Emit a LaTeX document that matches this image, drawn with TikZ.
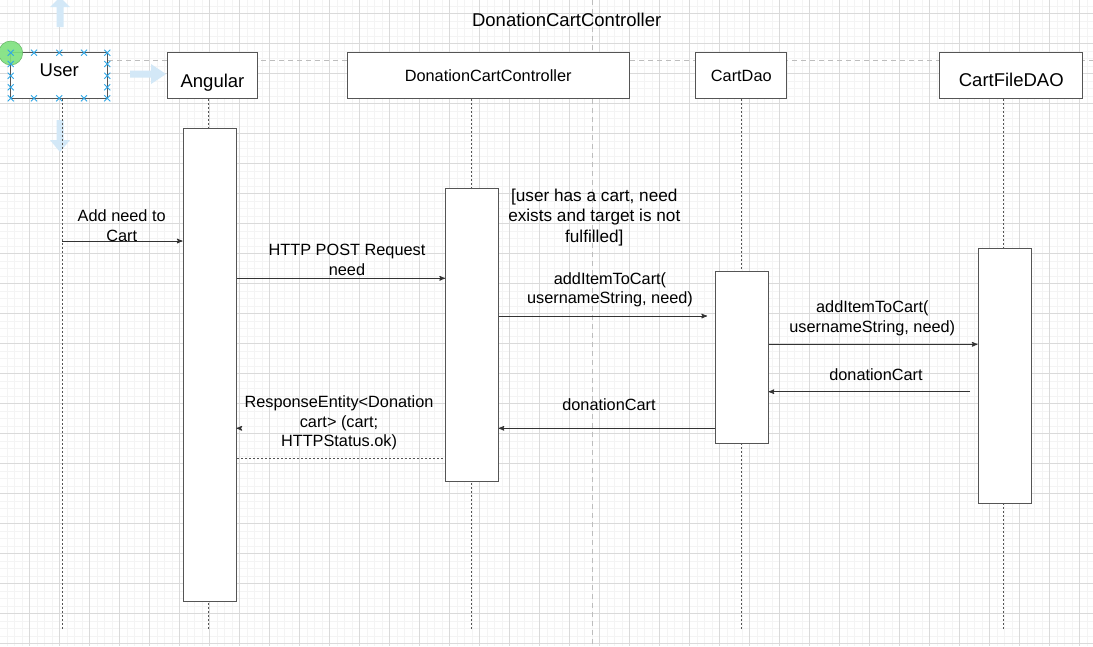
\documentclass[tikz,border=0pt]{standalone}
\usepackage{fontspec}
\setmainfont{Liberation Sans}
\usetikzlibrary{arrows}
\definecolor{gridmajor}{HTML}{DADADA}
\definecolor{gridminor}{HTML}{F4F4F4}
\definecolor{guidegray}{HTML}{BDBDBD}
\definecolor{boxline}{HTML}{555555}
\definecolor{msgline}{HTML}{333333}
\definecolor{selblue}{HTML}{2EA6E6}
\definecolor{hintblue}{HTML}{D3E8F7}
\definecolor{selgreen}{HTML}{7EE27E}
\tikzset{
    head/.style={
           rectangle,
           draw=boxline, fill=white, line width=1pt,
           minimum height=45.6pt, inner sep=0pt,
           text depth=0pt,
           },
    act/.style={
           rectangle,
           draw=boxline, fill=white, line width=1pt,
           anchor=north west, inner sep=0pt,
           },
    life/.style={draw=boxline, line width=0.9pt, dash pattern=on 2pt off 2pt},
    call/.style={->, draw=msgline, line width=1pt},
    msg/.style={align=center, inner sep=0pt, font=\fontsize{16.3}{19.5}\selectfont},
    guide/.style={draw=guidegray, line width=1pt, dash pattern=on 5pt off 4pt},
    big/.style={font=\fontsize{18.5}{20}\selectfont},
    small/.style={font=\fontsize{16.3}{19}\selectfont},
}

\begin{document}
\begin{tikzpicture}[x=1pt,y=-1pt,>=stealth']
	\useasboundingbox (0,0) rectangle (1093,646);
	\fill[white] (0,0) rectangle (1093,646);
	\foreach \i in {0,...,145} \draw[gridminor,line width=0.6pt] ({6.8+7.5*\i},0) -- ++(0,646);
	\foreach \i in {0,...,86} \draw[gridminor,line width=0.6pt] (0,{5.8+7.5*\i}) -- ++(1093,0);
	\foreach \i in {0,...,36} \draw[gridmajor,line width=0.8pt] ({29.3+30*\i},0) -- ++(0,646);
	\foreach \i in {0,...,21} \draw[gridmajor,line width=0.8pt] (0,{13.3+30*\i}) -- ++(1093,0);

	\draw[guide] (108,60.5) -- (1093,60.5);
	\draw[guide] (592.3,0) -- (592.3,646);

	% hints round the selected box
	\fill[hintblue] (56.5,27) -- (56.5,7) -- (50,7) -- (60,-3) -- (70,7) -- (63.5,7) -- (63.5,27) -- cycle;
	\fill[hintblue] (56.5,120) -- (56.5,140) -- (50,140) -- (60,152) -- (70,140) -- (63.5,140) -- (63.5,120) -- cycle;
	\fill[hintblue] (130,70.5) -- (151,70.5) -- (151,64) -- (166,74) -- (151,84) -- (151,77.5) -- (130,77.5) -- cycle;

	\node[big] (title) at (566.7,20) {DonationCartController};

	\node[head,big,minimum width=97pt,text height=2.4pt] (user) at (59.2,75.5) {User};
	\node[head,big,minimum width=90.4pt,text height=23pt] (angular) at (212.5,75.5) {Angular};
	\node[head,small,minimum width=281.7pt,text height=12.4pt] (dcc) at (488.2,75.5) {DonationCartController};
	\node[head,small,minimum width=90.7pt,text height=11.6pt] (dao) at (741.3,75.5) {CartDao};
	\node[head,big,minimum width=142.7pt,text height=22.4pt] (filedao) at (1011.3,75.5) {CartFileDAO};

	\fill[selgreen,draw=selgreen!80!black,line width=0.5pt,fill opacity=0.9] (10.7,53) circle (12);
	\foreach \x/\y in {10.7/52.7,34/52.7,59.3/52.7,84/52.7,107.3/52.7,
	                   10.7/98.3,34/98.3,59.3/98.3,84/98.3,107.3/98.3,
	                   10.7/64,10.7/75.7,10.7/87.3,107.3/64,107.3/75.7,107.3/87.3}
		\draw[selblue,line width=0.9pt] (\x-3,\y-3) -- (\x+3,\y+3) (\x-3,\y+3) -- (\x+3,\y-3);

	\coordinate (userEnd) at (62.3,630.7);
	\coordinate (angEnd) at (208.7,630.7);
	\coordinate (dccEnd) at (471,630.7);
	\coordinate (daoEnd) at (741,630.7);
	\coordinate (fileEnd) at (1003.3,630.7);

	\draw[life] (user.south -| userEnd) -- (userEnd);
	\draw[life] (angular.south -| angEnd) -- (angEnd);
	\draw[life] (dcc.south -| dccEnd) -- (dccEnd);
	\draw[life] (dao.south -| daoEnd) -- (daoEnd);
	\draw[life] (filedao.south -| fileEnd) -- (fileEnd);

	\node[act,minimum width=53pt,minimum height=472.7pt] (angAct) at (182.5,128) {};
	\node[act,minimum width=52.7pt,minimum height=292.5pt] (dccAct) at (445,188.3) {};
	\node[act,minimum width=52.7pt,minimum height=172.8pt] (daoAct) at (715,270.5) {};
	\node[act,minimum width=53pt,minimum height=254.7pt] (fileAct) at (977.5,248.3) {};

	\coordinate (addTip) at (707,316);
	\coordinate (cartTail) at (970,391.7);
	\coordinate (respTail) at (241,428.3);
	\coordinate (retTail) at (442.7,458.3);

	\draw[call] (userEnd |- 0,241) -- (angAct.west |- 0,241);
	\draw[call] (angAct.east |- 0,278.3) -- (dccAct.west |- 0,278.3);
	\draw[call] (dccAct.east |- 0,316) -- (addTip);
	\draw[call] (daoAct.east |- 0,344.3) -- (fileAct.west |- 0,344.3);
	\draw[call] (cartTail) -- (daoAct.east |- cartTail);
	\draw[call] (daoAct.west |- 0,428.3) -- (dccAct.east |- 0,428.3);
	\draw[call] (respTail) -- (angAct.east |- respTail);
	\draw[life] (retTail) -- (angAct.east |- retTail);

	\node[msg] (needL) at (121.7,225.5) {Add need to\\Cart};
	\node[msg] (postL) at (347,259.7) {HTTP POST Request\\need};
	\node[msg,font=\fontsize{17.2}{20.5}\selectfont] (guard) at (594.3,217.3)
		{[user has a cart, need\\exists and target is not\\fulfilled]};
	\node[msg] (addL) at (610,289.7) {addItemToCart(\\usernameString, need)};
	\node[msg] (addFileL) at (872.3,318.3) {addItemToCart(\\usernameString, need)};
	\node[msg] (cartL) at (876,375) {donationCart};
	\node[msg] (cartBackL) at (609,405) {donationCart};
	\node[msg] (respL) at (339,423) {ResponseEntity<Donation\\cart> (cart;\\HTTPStatus.ok)};
\end{tikzpicture}
\end{document}
